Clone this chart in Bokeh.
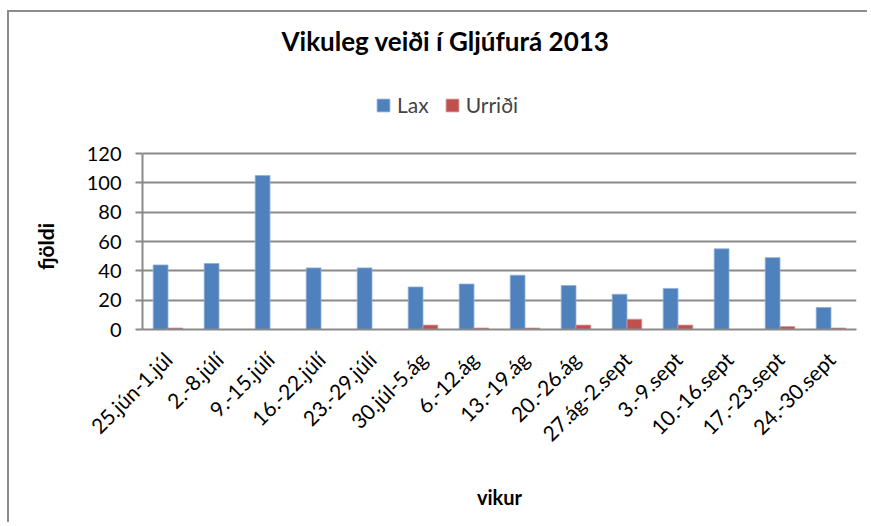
from bokeh.plotting import figure
from bokeh.models import (ColumnDataSource, FactorRange, Range1d, FixedTicker, Label,
                          Legend, LegendItem, LinearAxis)
from bokeh.transform import dodge
from bokeh.embed import file_html
from bokeh.resources import INLINE
import math

weeks = ["25.jún-1.júl", "2.-8.júlí", "9.-15.júlí", "16.-22.júlí", "23.-29.júlí",
         "30.júl-5.ág", "6.-12.ág", "13.-19.ág", "20.-26.ág", "27.ág-2.sept",
         "3.-9.sept", "10.-16.sept", "17.-23.sept", "24.-30.sept"]
lax = [44, 45, 105, 42, 42, 29, 31, 37, 30, 24, 28, 55, 49, 15]
urridi = [1, 0, 0, 0, 0, 3, 1, 1, 3, 7, 3, 0, 2, 1]
y_ticks = [0, 20, 40, 60, 80, 100, 120]
y_max = 120

FONT = "Lato"
GRID = "#8a8a8a"

# canvas origin on the page (CSS margin + 2px border of the chart area)
OX, OY = 9, 12
# layout in canvas pixels
W, H = 860, 512
F_LEFT, F_RIGHT, F_BOTTOM = 142 - OX, 856 - OX, 329 - OY
Y120 = 153 - OY
px_per_unit = (F_BOTTOM - Y120) / y_max
px_per_cat = (F_RIGHT - F_LEFT) / len(weeks)

src = ColumnDataSource(dict(weeks=weeks, lax=lax, urridi=urridi))

# the frame reaches the top of the canvas so that title and legend can sit inside it
p = figure(x_range=FactorRange(*weeks), y_range=Range1d(0, F_BOTTOM / px_per_unit),
           width=W, height=H, title=None,
           min_border_left=F_LEFT, min_border_right=W - F_RIGHT, min_border_top=0,
           min_border_bottom=H - F_BOTTOM,
           output_backend="svg", toolbar_location=None)
p.styles = {"margin-top": "10px", "margin-left": "7px",
            "border-top": "2px solid #8c8c8c", "border-left": "2px solid #8c8c8c"}
p.outline_line_color = None

r1 = p.vbar(x=dodge("weeks", -0.145, range=p.x_range), top="lax", width=0.29, source=src,
            fill_color="#4F81BD", line_color="#8fb0d8", line_width=0.8)
r2 = p.vbar(x=dodge("weeks", 0.145, range=p.x_range), top="urridi", width=0.29, source=src,
            fill_color="#C0504D", line_color="#d99694", line_width=0.8)

p.yaxis.ticker = FixedTicker(ticks=y_ticks)
p.yaxis.bounds = (0, y_max)
p.ygrid.ticker = FixedTicker(ticks=y_ticks)
p.ygrid.grid_line_color = GRID
p.ygrid.grid_line_width = 2
p.xgrid.grid_line_color = None

for ax in (p.xaxis, p.yaxis):
    ax.axis_line_color = GRID
    ax.axis_line_width = 2
    ax.major_label_text_font = FONT
    ax.major_label_text_color = "black"
    ax.minor_tick_line_color = None
p.yaxis.major_label_text_font_size = "20px"
p.xaxis.major_label_text_font_size = "21px"
p.yaxis.major_tick_line_color = GRID
p.yaxis.major_tick_line_width = 2
p.yaxis.major_tick_out = 7
p.yaxis.major_tick_in = 0
p.yaxis.major_label_standoff = 14
p.xaxis.major_tick_line_color = None
p.xaxis.major_label_orientation = math.pi / 4
p.xaxis.major_label_standoff = 20
p.xaxis.axis_label = "vikur"
p.xaxis.axis_label_standoff = 28
p.xaxis.axis_label_text_font = FONT
p.xaxis.axis_label_text_font_size = "20px"
p.xaxis.axis_label_text_font_style = "bold"
p.xaxis.axis_label_text_color = "black"

# y-axis title, drawn as the single label of an outer axis
ytitle_pos = (F_BOTTOM - (246 - OY)) / px_per_unit
ytitle_axis = LinearAxis(ticker=FixedTicker(ticks=[ytitle_pos]),
                         major_label_overrides={ytitle_pos: "fjöldi"},
                         major_label_orientation="vertical", major_label_standoff=20,
                         axis_line_color=None, major_tick_line_color=None,
                         minor_tick_line_color=None,
                         major_label_text_font=FONT, major_label_text_font_size="21px",
                         major_label_text_font_style="bold", major_label_text_color="black")
p.add_layout(ytitle_axis, "left")

p.add_layout(Label(x=(281 - OX - F_LEFT) / px_per_cat, y=(F_BOTTOM - (40 - OY)) / px_per_unit,
                   text="Vikuleg veiði í Gljúfurá 2013",
                   text_font=FONT, text_font_size="26px", text_font_style="bold",
                   text_align="left", text_baseline="middle", text_color="black"))

legend = Legend(items=[LegendItem(label="Lax", renderers=[r1]),
                       LegendItem(label="Urriði", renderers=[r2])],
                orientation="horizontal", location=(375 - OX - F_LEFT, F_BOTTOM - (117 - OY)),
                glyph_width=16, glyph_height=16, label_standoff=6, spacing=15,
                padding=0, margin=0, border_line_color=None, background_fill_alpha=0,
                label_text_font=FONT, label_text_font_size="21px", label_height=20)
p.add_layout(legend, "center")

open("out.html", "w").write(file_html(p, INLINE))
